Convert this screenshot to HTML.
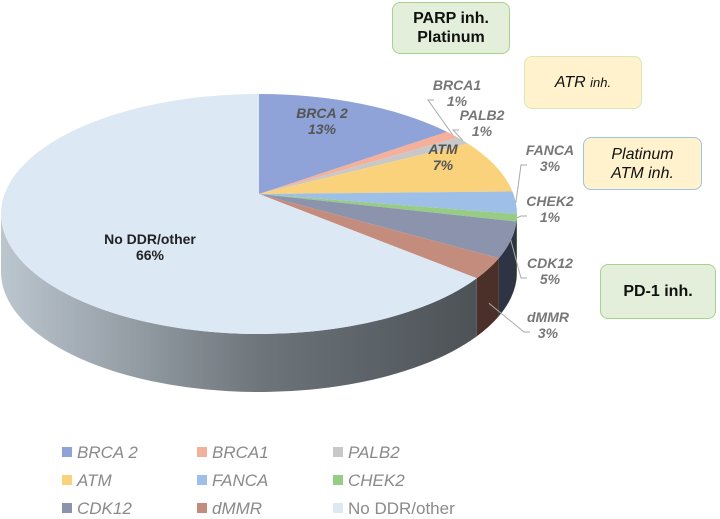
<!DOCTYPE html>
<html><head><meta charset="utf-8"><style>
body{margin:0;background:#fff;width:720px;height:515px;overflow:hidden;font-family:"Liberation Sans",sans-serif}
.box{position:absolute;border-radius:8px;display:flex;align-items:center;justify-content:center;text-align:center;font-size:16px;line-height:19px;color:#111}
.lg{position:absolute;font-size:17px;font-style:italic;color:#8a8a8a}
.lg i{display:inline-block;width:10px;height:10px;margin-right:5px;vertical-align:1px}
</style></head><body>
<svg id="chart" width="720" height="515" style="position:absolute;left:0;top:0">
<defs><linearGradient id="sideg" x1="0" x2="1"><stop offset="0" stop-color="#bcc6cf"/><stop offset="0.55" stop-color="#6d747a"/><stop offset="1" stop-color="#4c5256"/></linearGradient></defs>
<g id="sideG"></g><g id="topG"></g><g id="lblG"></g>
</svg>
<div class="box" style="left:392px;top:2px;width:116px;height:50px;background:#e3efda;border:1px solid #a9d18e;font-weight:bold">PARP inh.<br>Platinum</div>
<div class="box" style="left:524px;top:56px;width:116px;height:51px;background:#fff2cc;border:1px solid #d7e7b5;font-style:italic">ATR&nbsp;<span style="font-size:13px">inh.</span></div>
<div class="box" style="left:583px;top:137px;width:117px;height:51px;background:#fff2cc;border:1px solid #9dc3e6;font-style:italic">Platinum<br>ATM inh.</div>
<div class="box" style="left:600px;top:264px;width:114px;height:53px;background:#e3efda;border:1px solid #a9d18e;font-weight:bold">PD-1 inh.</div>
<div id="legend"></div>
<script>
const categories=["BRCA 2","BRCA1","PALB2","ATM","FANCA","CHEK2","CDK12","dMMR","No DDR/other"];
const values=[13,1,1,7,3,1,5,3,66];
const colors=["#8fa3d8","#f4b09a","#c8c8c8","#fbd27c","#9dbfe8","#97cc84","#8b93ad","#c48c7c","#dce8f4"];
const sideColors=["#5a6a9a","#a06a55","#8a8a8a","#b08a40","#5a7aa0","#5a8a50","#2e3444","#4a3028","url(#sideg)"];
const labelPos=[[322,118,0],[457,90,1],[482,120,1],[443,154,0],[550,155,1],[550,206,1],[550,268,1],[548,322,1],[150,244,0]];
const ns="http://www.w3.org/2000/svg";
const cx=259,cy=214,rx=258,ry=120,ax=259,ay=194,dep=58;
const total=values.reduce((a,b)=>a+b,0);
function pt(a){return [cx+rx*Math.cos(a),cy+ry*Math.sin(a)];}
function ang(v){return -Math.PI/2+v/total*2*Math.PI;}
const topG=document.getElementById('topG'),sideG=document.getElementById('sideG'),lblG=document.getElementById('lblG');
let cum=0;
values.forEach((v,i)=>{
  const a0=ang(cum),a1=ang(cum+v);cum+=v;
  const p0=pt(a0),p1=pt(a1),large=(a1-a0)>Math.PI?1:0;
  const s0=Math.max(a0,0),s1=Math.min(a1,Math.PI);
  if(s1>s0){
    const q0=pt(s0),q1=pt(s1);
    const sp=document.createElementNS(ns,'path');
    sp.setAttribute('d',`M${q0[0]},${q0[1]} A${rx},${ry} 0 0 1 ${q1[0]},${q1[1]} L${q1[0]},${q1[1]+dep} A${rx},${ry} 0 0 0 ${q0[0]},${q0[1]+dep} Z`);
    sp.setAttribute('fill',sideColors[i]);
    
    
    sideG.appendChild(sp);
  }
  const p=document.createElementNS(ns,'path');
  p.setAttribute('d',`M${ax},${ay} L${p0[0]},${p0[1]} A${rx},${ry} 0 ${large} 1 ${p1[0]},${p1[1]} Z`);
  p.setAttribute('fill',colors[i]);
  
  
  topG.appendChild(p);
  const lp=labelPos[i];
  const t=document.createElementNS(ns,'text');
  t.setAttribute('x',lp[0]);t.setAttribute('y',lp[1]);t.setAttribute('text-anchor','middle');
  t.setAttribute('font-size','14');t.setAttribute('font-weight','bold');
  t.setAttribute('font-style',i==8?'normal':'italic');
  t.setAttribute('fill',i==8?'#222':(lp[2]?'#777':'#555'));
  
  
  t.innerHTML=`<tspan x="${lp[0]}">${categories[i]}</tspan><tspan x="${lp[0]}" dy="16">${v}%</tspan>`;
  lblG.appendChild(t);
  if(lp[2]){
    const am=(a0+a1)/2,e=pt(am);
    let ey=e[1]; if(am>0.3) ey+=dep*0.6;
    const l=document.createElementNS(ns,'polyline');
    const lx=lp[0]-(categories[i].length*5)-4, ly=lp[1]+10;
    l.setAttribute('points',`${e[0]},${ey} ${lx},${ly} ${lx+6},${ly}`);
    l.setAttribute('fill','none');l.setAttribute('stroke','#aaa');l.setAttribute('stroke-width','1');
    
    
    lblG.appendChild(l);
  }
});
const lgX=[62,197,333],lgY=[443,471,499];
const legend=document.getElementById('legend');
categories.forEach((c,i)=>{
  const d=document.createElement('div');d.className='lg';
  d.style.left=lgX[i%3]+'px';d.style.top=lgY[Math.floor(i/3)]+'px';
  if(i==8)d.style.fontStyle='normal';
  d.innerHTML=`<i style="background:${colors[i]}"></i>${c}`;
  
  
  legend.appendChild(d);
});
</script>
</body></html>
